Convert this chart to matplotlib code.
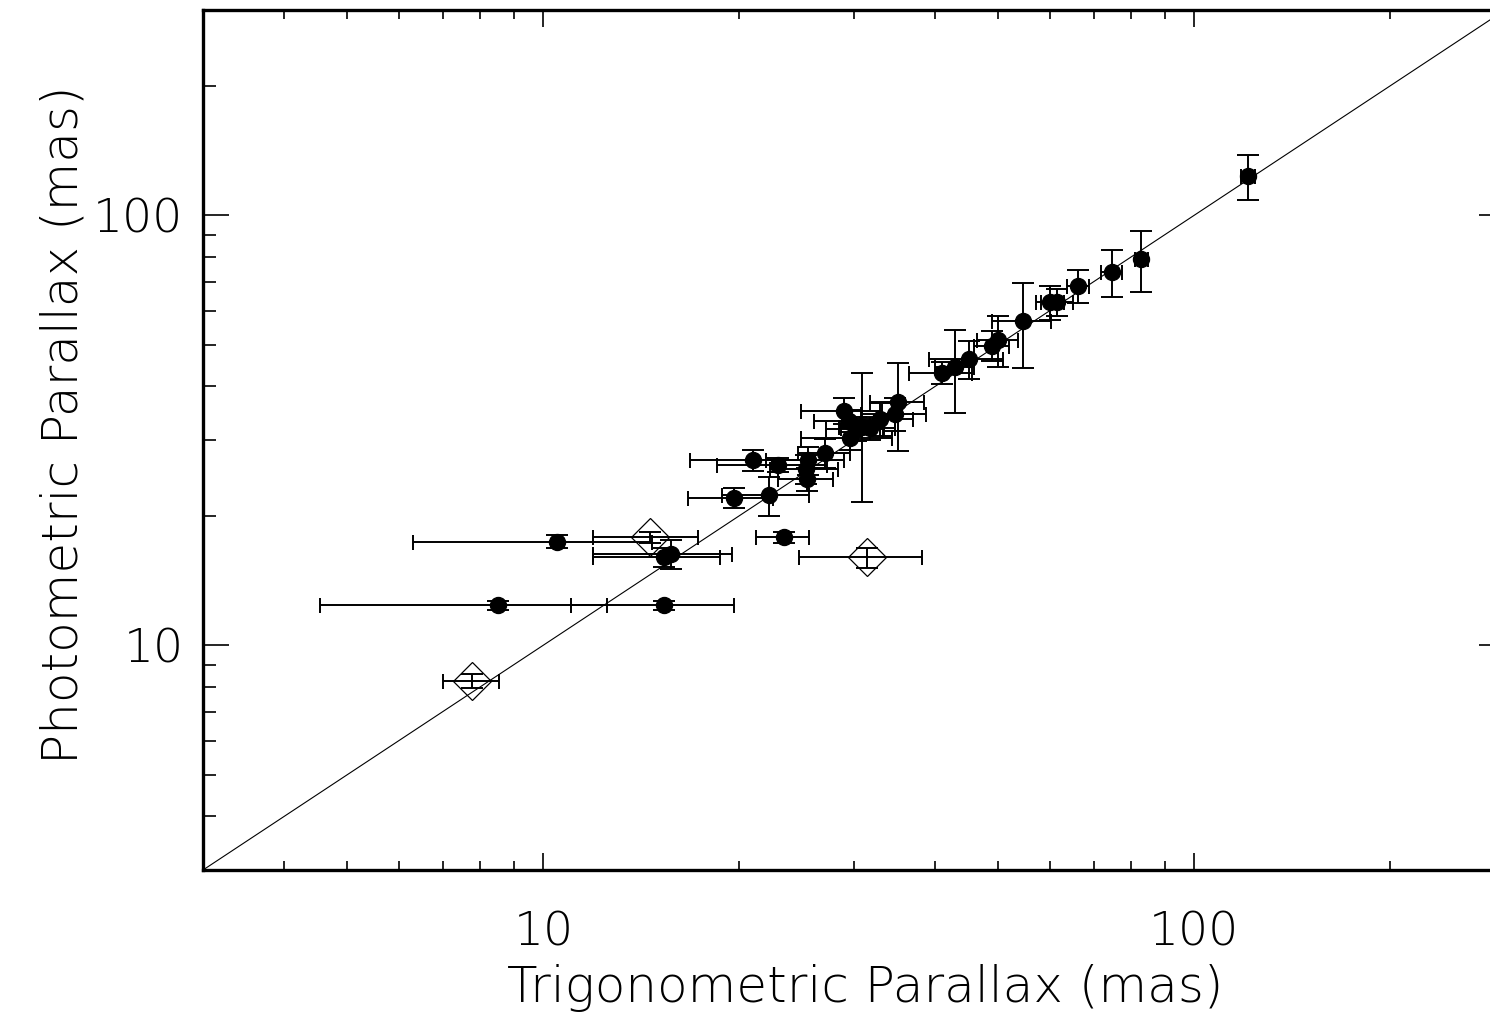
import matplotlib
matplotlib.use("Agg")
import matplotlib.pyplot as plt
from matplotlib.ticker import FixedLocator, FixedFormatter, LogLocator, NullFormatter
import numpy as np

# Filled circles: trigonometric parallax (x), photometric parallax (y), errors (mas)
trig_plx = [121.0, 82.9, 74.6, 66.3, 60.1, 61.6, 54.6, 50.0, 48.9, 45.0, 42.9, 41.0,
            35.1, 34.7, 32.9, 29.0, 29.5, 30.2, 30.9, 31.7, 29.6, 27.1, 25.5, 25.3,
            25.4, 21.0, 22.9, 19.6, 22.2, 23.4, 10.5, 15.3, 15.7, 8.53, 15.34]
trig_err = [3.0, 1.9, 2.7, 2.6, 3.0, 3.5, 5.7, 3.6, 3.0, 5.9, 3.0, 4.5,
            3.3, 4.0, 4.0, 4.1, 3.5, 3.0, 2.5, 3.0, 4.7, 2.5, 3.5, 3.0,
            2.5, 4.2, 4.4, 2.9, 3.4, 2.2, 4.2, 3.4, 3.8, 4.0, 4.3]
phot_plx = [123.2, 79.1, 73.8, 68.4, 62.8, 62.8, 56.8, 51.3, 49.7, 46.3, 44.4, 43.0,
            36.8, 34.5, 33.6, 35.1, 33.3, 31.9, 32.2, 32.0, 30.4, 28.0, 26.9, 25.7,
            24.3, 26.9, 26.3, 22.0, 22.3, 17.8, 17.4, 16.0, 16.3, 12.4, 12.4]
phot_err = [14.5, 13.0, 9.4, 6.0, 5.8, 4.5, 12.6, 7.0, 4.0, 4.7, 9.7, 2.5,
            8.5, 3.0, 3.0, 2.5, 2.0, 2.0, 10.7, 2.0, 2.0, 2.2, 2.0, 2.0,
            1.5, 1.5, 1.0, 1.2, 2.3, 0.5, 0.6, 0.8, 1.3, 0.3, 0.3]

# Open diamonds
trig_plx_d = [14.6, 31.4, 7.78]
trig_err_d = [2.7, 6.7, 0.78]
phot_plx_d = [17.8, 16.0, 8.25]
phot_err_d = [0.5, 0.85, 0.3]

x_ticks = [10, 100]
x_ticklabels = ["10", "100"]
y_ticks = [10, 100]
y_ticklabels = ["10", "100"]

plt.rcParams['font.family'] = ['DejaVu Sans']

fig = plt.figure(figsize=(14.90, 10.17), dpi=100)
ax = fig.add_axes([203/1490, (1017-870)/1017, (1505-203)/1490, (870-10)/1017])
ax.set_xscale('log')
ax.set_yscale('log')
ax.set_xlim(3, 300)
ax.set_ylim(3, 300)

# 1:1 line
ax.plot([3, 300], [3, 300], color='black', lw=0.8, zorder=1)

# y error bars (wide caps) and x error bars (short caps)
ax.errorbar(trig_plx, phot_plx, yerr=phot_err, fmt='none', ecolor='black',
            elinewidth=1.4, capsize=8.0, capthick=1.4, zorder=2)
ax.errorbar(trig_plx, phot_plx, xerr=trig_err, fmt='none', ecolor='black',
            elinewidth=1.4, capsize=5.4, capthick=1.4, zorder=2)
ax.plot(trig_plx, phot_plx, 'o', color='black', ms=11.5, zorder=3)

ax.errorbar(trig_plx_d, phot_plx_d, yerr=phot_err_d, fmt='none', ecolor='black',
            elinewidth=1.4, capsize=8.0, capthick=1.4, zorder=2)
ax.errorbar(trig_plx_d, phot_plx_d, xerr=trig_err_d, fmt='none', ecolor='black',
            elinewidth=1.4, capsize=5.4, capthick=1.4, zorder=2)
ax.plot(trig_plx_d, phot_plx_d, 'D', mfc='none', mec='black', mew=0.9, ms=19, zorder=3)

for s in ax.spines.values():
    s.set_linewidth(2.4)

ax.xaxis.set_major_locator(FixedLocator(x_ticks))
ax.xaxis.set_major_formatter(FixedFormatter(x_ticklabels))
ax.xaxis.set_minor_locator(LogLocator(base=10, subs=np.arange(2, 10)))
ax.xaxis.set_minor_formatter(NullFormatter())
ax.yaxis.set_major_locator(FixedLocator(y_ticks))
ax.yaxis.set_major_formatter(FixedFormatter(y_ticklabels))
ax.yaxis.set_minor_locator(LogLocator(base=10, subs=np.arange(2, 10)))
ax.yaxis.set_minor_formatter(NullFormatter())

ax.tick_params(axis='x', which='major', direction='in', length=12.5, width=1.2,
               top=True, bottom=True, labelsize=34, pad=29)
ax.tick_params(axis='x', which='minor', direction='in', length=6.2, width=1.2,
               top=True, bottom=True)
ax.tick_params(axis='y', which='major', direction='in', length=18.7, width=1.2,
               left=True, right=True, labelsize=34, pad=14)
ax.tick_params(axis='y', which='minor', direction='in', length=9.3, width=1.2,
               left=True, right=True)
for lab in ax.get_xticklabels() + ax.get_yticklabels():
    lab.set_fontweight('light')

ax.set_xlabel("Trigonometric Parallax (mas)", fontsize=36, fontweight='light')
ax.set_ylabel("Photometric Parallax (mas)", fontsize=36, fontweight='light')
ax.xaxis.set_label_coords((865-203)/1302, -(964-870)/860)
ax.yaxis.set_label_coords(-(203-88)/1302, (870-425)/860)

fig.savefig("out.png", dpi=100)
